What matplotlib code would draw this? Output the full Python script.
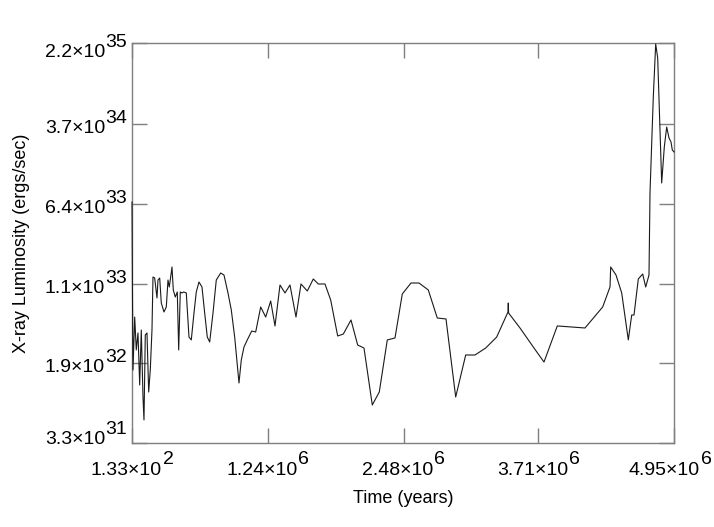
import matplotlib

matplotlib.use("Agg")
import matplotlib.pyplot as plt

# time in Myr, luminosity in units of 1e33 ergs/sec
time_myr = [
    0.000133, 0.0046, 0.0091, 0.0247, 0.0393, 0.0548, 0.0703, 0.0849, 0.1005, 0.1096,
    0.1215, 0.1370, 0.1525, 0.1671, 0.1826, 0.1918, 0.2073, 0.2283, 0.2374, 0.2530,
    0.2676, 0.2922, 0.3133, 0.3288, 0.3407, 0.3534, 0.3653, 0.3772, 0.3954, 0.4137,
    0.4265, 0.4411, 0.4566, 0.4722, 0.4959, 0.5206, 0.5416, 0.5662, 0.5872, 0.6119,
    0.6393, 0.6639, 0.6877, 0.7096, 0.7398, 0.7699, 0.8101, 0.8402, 0.8767, 0.9069,
    0.9379, 0.9772, 0.9982, 1.0229, 1.0530, 1.0932, 1.1297, 1.1754, 1.2211, 1.2667,
    1.3060, 1.3517, 1.3973, 1.4430, 1.4978, 1.5434, 1.6010, 1.6558, 1.7015, 1.7626,
    1.8147, 1.8786, 1.9297, 2.0001, 2.0613, 2.1188, 2.1946, 2.2585, 2.3316, 2.4019,
    2.4686, 2.5481, 2.6211, 2.7060, 2.7882, 2.8677, 2.9563, 3.0476, 3.1325, 3.2303,
    3.3307, 3.4339, 3.4366, 3.4394, 3.5435, 3.6650, 3.7627, 3.8842, 4.1372, 4.2988,
    4.3655, 4.3719, 4.4203, 4.4724, 4.5327, 4.5637, 4.5847, 4.6240, 4.6641, 4.6915,
    4.7217, 4.7308, 4.7609, 4.7828, 4.8011, 4.8376, 4.8614, 4.8833, 4.9043, 4.9226,
    4.9344, 4.9500,
]
lum_1e33 = [
    6.64, 0.821, 0.1646, 0.528, 0.256, 0.372, 0.1183, 0.397, 0.0908, 0.0548,
    0.356, 0.372, 0.1014, 0.1646, 0.397, 1.275, 1.247, 0.803, 1.193, 1.247,
    0.719, 0.590, 0.659, 1.193, 1.023, 1.275, 1.589, 0.958, 0.821, 0.917,
    0.256, 0.917, 0.897, 0.917, 0.897, 0.340, 0.319, 0.577, 0.917, 1.142,
    1.023, 0.577, 0.340, 0.305, 0.577, 1.193, 1.392, 1.332, 0.897, 0.617,
    0.340, 0.1237, 0.205, 0.273, 0.319, 0.388, 0.380, 0.659, 0.528, 0.752,
    0.434, 1.069, 0.897, 1.069, 0.528, 1.093, 0.937, 1.220, 1.093, 1.093,
    0.768, 0.348, 0.363, 0.495, 0.285, 0.267, 0.0762, 0.1014, 0.319, 0.333,
    0.877, 1.117, 1.117, 0.958, 0.517, 0.506, 0.0908, 0.229, 0.229, 0.267,
    0.340, 0.590, 0.719, 0.577, 0.415, 0.273, 0.196, 0.434, 0.415, 0.659,
    1.023, 1.589, 1.332, 0.897, 0.319, 0.552, 0.552, 1.220, 1.362, 1.023,
    1.332, 8.10, 67.0, 215.2, 158.1, 10.1, 22.3, 34.6, 27.2, 24.9,
    20.9, 20.0,
]

x_ticks = [133, 1.24e6, 2.48e6, 3.71e6, 4.95e6]
x_tick_base = ["1.33×10", "1.24×10", "2.48×10", "3.71×10", "4.95×10"]
x_tick_exp = ["2", "6", "6", "6", "6"]

y_ticks = [3.3e31, 1.9e32, 1.1e33, 6.4e33, 3.7e34, 2.2e35]
y_tick_base = ["3.3×10", "1.9×10", "1.1×10", "6.4×10", "3.7×10", "2.2×10"]
y_tick_exp = ["31", "32", "33", "33", "34", "35"]

plt.rcParams["font.family"] = ["Liberation Sans", "DejaVu Sans"]
FS_TICK = 14
FS_LABEL = 13
GRAY = "#7f7f7f"

fig = plt.figure(figsize=(7.14, 5.27), dpi=100)
ax = fig.add_axes([132 / 714, 1 - 443 / 527, 542 / 714, 400 / 527])

t_years = [t * 1e6 for t in time_myr]
lum = [v * 1e33 for v in lum_1e33]
ax.plot(t_years, lum, color="#1a1a1a", linewidth=0.8, zorder=3, clip_on=False)

ax.set_yscale("log")
ax.set_xlim(x_ticks[0], x_ticks[-1])
ax.set_ylim(y_ticks[0], y_ticks[-1])

ax.set_xticks(x_ticks)
ax.set_yticks(y_ticks)
ax.yaxis.set_minor_locator(matplotlib.ticker.NullLocator())
ax.set_xticklabels([])
ax.set_yticklabels([])
ax.tick_params(which="both", direction="in", length=11, width=1, color=GRAY,
               top=True, right=True)
for sp in ax.spines.values():
    sp.set_color(GRAY)
    sp.set_linewidth(1)

# tick labels with full-size exponents
x_shift = [0, 0, 0, 0, -4]
for val, base, ex, sh in zip(x_ticks, x_tick_base, x_tick_exp, x_shift):
    ax.annotate(base, xy=(val, 0), xycoords=("data", "axes fraction"),
                xytext=(30 + sh, -32), textcoords="offset pixels",
                ha="right", va="baseline", fontsize=FS_TICK)
    ax.annotate(ex, xy=(val, 0), xycoords=("data", "axes fraction"),
                xytext=(30.5 + sh, -20.5), textcoords="offset pixels",
                ha="left", va="baseline", fontsize=FS_TICK)

y_shift = [8, 0, 0, 0, 0, -5]
for val, base, ex, sh in zip(y_ticks, y_tick_base, y_tick_exp, y_shift):
    ax.annotate(base, xy=(0, val), xycoords=("axes fraction", "data"),
                xytext=(-27, -9 + sh), textcoords="offset pixels",
                ha="right", va="baseline", fontsize=FS_TICK)
    ax.annotate(ex, xy=(0, val), xycoords=("axes fraction", "data"),
                xytext=(-26.5, 1 + sh), textcoords="offset pixels",
                ha="left", va="baseline", fontsize=FS_TICK)

ax.annotate("Time (years)", xy=(0.5, 0), xycoords="axes fraction",
            xytext=(0, -60), textcoords="offset pixels",
            ha="center", va="baseline", fontsize=FS_LABEL)
ax.annotate("X-ray Luminosity (ergs/sec)", xy=(0, 0.5), xycoords="axes fraction",
            xytext=(-110, 0), textcoords="offset pixels",
            ha="center", va="center", rotation=90, fontsize=FS_LABEL)

fig.savefig("out.png", dpi=100)
